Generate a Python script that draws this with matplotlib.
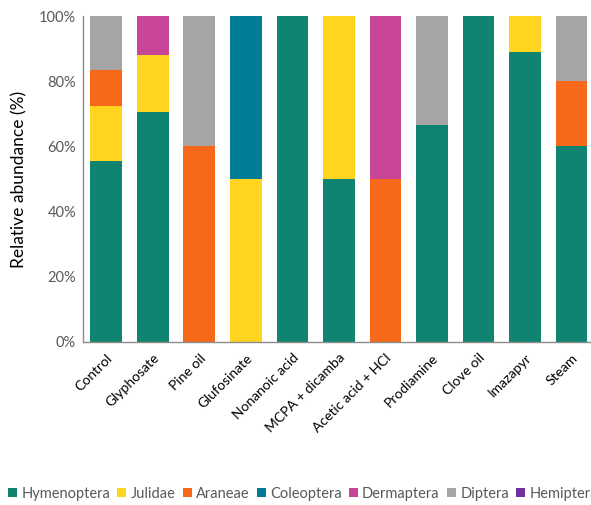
import matplotlib
matplotlib.use("Agg")
import matplotlib.pyplot as plt
import numpy as np

plt.rcParams['font.family'] = ['Lato', 'DejaVu Sans']

categories = ["Control", "Glyphosate", "Pine oil", "Glufosinate", "Nonanoic acid",
              "MCPA + dicamba", "Acetic acid + HCl", "Prodiamine", "Clove oil",
              "Imazapyr", "Steam"]

series_names = ["Hymenoptera", "Julidae", "Araneae", "Coleoptera", "Dermaptera",
                "Diptera", "Hemiptera"]

hymenoptera = [55.6, 70.6, 0, 0, 100, 50, 0, 66.7, 100, 88.9, 60]
julidae     = [16.7, 17.6, 0, 50, 0, 50, 0, 0, 0, 11.1, 0]
araneae     = [11.1, 0, 60, 0, 0, 0, 50, 0, 0, 0, 20]
coleoptera  = [0, 0, 0, 50, 0, 0, 0, 0, 0, 0, 0]
dermaptera  = [0, 11.8, 0, 0, 0, 0, 50, 0, 0, 0, 0]
diptera     = [16.7, 0, 40, 0, 0, 0, 0, 33.3, 0, 0, 20]
hemiptera   = [0, 0, 0, 0, 0, 0, 0, 0, 0, 0, 0]

colors = ["#0F8470", "#FFD520", "#F7691A", "#007C96", "#C84598", "#A5A5A5", "#7030A0"]

data = [hymenoptera, julidae, araneae, coleoptera, dermaptera, diptera, hemiptera]

fig = plt.figure(figsize=(5.91, 5.05), dpi=100)
ax = fig.add_axes([0.1404, 0.3228, 0.866, 0.6452])

x = np.arange(len(categories))
bottom = np.zeros(len(categories))
handles = []
for name, vals, c in zip(series_names, data, colors):
    vals = np.array(vals, dtype=float)
    b = ax.bar(x, vals, 0.68, bottom=bottom, color=c, label=name, edgecolor='none')
    handles.append(b)
    bottom += vals

ax.set_xlim(-0.5, len(categories) - 0.5)
ax.set_ylim(0, 100)
ax.set_yticks([0, 20, 40, 60, 80, 100])
ax.set_yticklabels([f"{v}%" for v in [0, 20, 40, 60, 80, 100]], color="#595959", fontsize=10.5)
ax.set_xticks(x)
ax.set_xticklabels(categories, rotation=45, ha='right', rotation_mode='anchor',
                   fontsize=10, color="#000000")
ax.tick_params(axis='both', length=0, pad=5)
ax.tick_params(axis='x', pad=7)
ax.set_ylabel("Relative abundance (%)", fontsize=12.5, color="#000000", labelpad=8)

for s in ['top', 'right']:
    ax.spines[s].set_visible(False)
for s in ['left', 'bottom']:
    ax.spines[s].set_color("#8C8C8C")
    ax.spines[s].set_linewidth(1.0)

leg = fig.legend(handles=handles, labels=series_names, loc='center left',
                 bbox_to_anchor=(0.004, 0.022), ncol=7, frameon=False,
                 handlelength=0.6, handleheight=0.6, handletextpad=0.3,
                 columnspacing=0.5, fontsize=10.5, borderaxespad=0)
for t in leg.get_texts():
    t.set_color("#595959")

fig.savefig("out.png", dpi=100)
